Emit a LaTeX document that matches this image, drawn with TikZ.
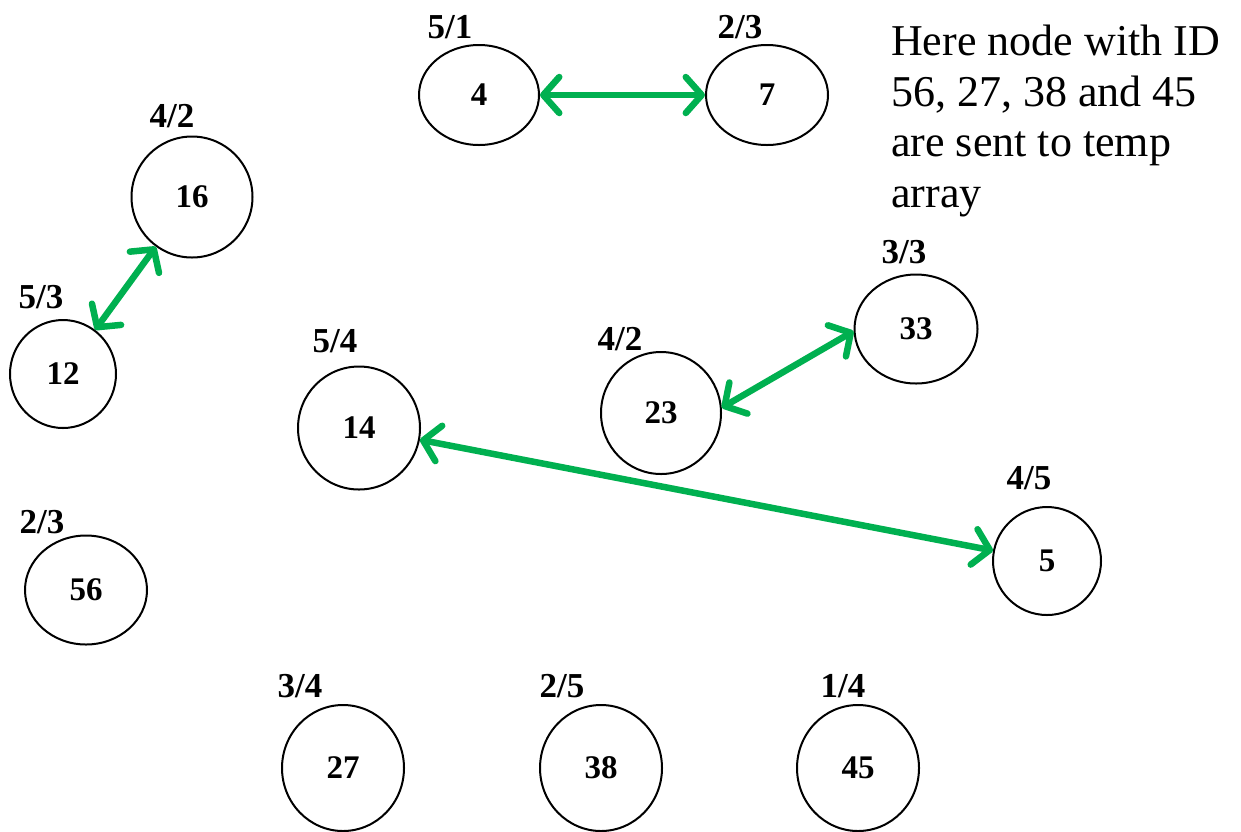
\documentclass[tikz,border=0pt]{standalone}
\usepackage{fontspec}
\setmainfont{Liberation Serif}
\usetikzlibrary{shapes.geometric,arrows.meta}
\definecolor{arrowgreen}{RGB}{0,176,80}
\begin{document}
\begin{tikzpicture}[x=1pt,y=-1pt,
  vnode/.style={ellipse,draw,line width=2pt,inner sep=0pt,font=\fontsize{33}{36}\selectfont\bfseries},
  lbl/.style={font=\fontsize{35}{38}\selectfont\bfseries,inner sep=0pt},
  link/.style={draw=arrowgreen,line width=6.5pt,
    {Straight Barb[length=16pt,width=36pt,line cap=round,round]}-{Straight Barb[length=16pt,width=36pt,line cap=round,round]}}]
\useasboundingbox (0,0) rectangle (1241,831);
% nodes
\node[vnode,minimum width=120pt,minimum height=100pt] (n4) at (479,95) {4};
\node[vnode,minimum width=122pt,minimum height=100pt] (n7) at (767,95) {7};
\node[vnode,minimum width=121pt,minimum height=121pt] (n16) at (192,197) {16};
\node[vnode,minimum width=106pt,minimum height=108pt] (n12) at (63,374) {12};
\node[vnode,minimum width=122pt,minimum height=123pt] (n14) at (359,428) {14};
\node[vnode,minimum width=120pt,minimum height=122pt] (n23) at (661,413) {23};
\node[vnode,minimum width=123pt,minimum height=109pt] (n33) at (916,329) {33};
\node[vnode,minimum width=108pt,minimum height=108pt] (n5) at (1047,561) {5};
\node[vnode,minimum width=122pt,minimum height=109pt] (n56) at (86,590) {56};
\node[vnode,minimum width=122pt,minimum height=126pt] (n27) at (343,768) {27};
\node[vnode,minimum width=122pt,minimum height=126pt] (n38) at (601,768) {38};
\node[vnode,minimum width=122pt,minimum height=126pt] (n45) at (858,768) {45};
% labels
\node[lbl] (l4) at (450,27) {5/1};
\node[lbl] (l7) at (740,27) {2/3};
\node[lbl] (l16) at (172,116) {4/2};
\node[lbl] (l12) at (41,297) {5/3};
\node[lbl] (l14) at (335,341) {5/4};
\node[lbl] (l23) at (620,339) {4/2};
\node[lbl] (l33) at (904,252) {3/3};
\node[lbl] (l5) at (1029,478) {4/5};
\node[lbl] (l56) at (42,522) {2/3};
\node[lbl] (l27) at (300,686) {3/4};
\node[lbl] (l38) at (562,686) {2/5};
\node[lbl] (l45) at (843,686) {1/4};
% connectors
\draw[link] (n4) -- (n7);
\draw[link] (n16) -- (n12);
\draw[link] (n23.5) -- (n33.182);
\draw[link] (n14) -- (n5);
% annotation
\node[anchor=north west,align=left,inner sep=0pt,font=\fontsize{44}{50.5}\selectfont] (note) at (891,25)
  {Here node with ID\\56, 27, 38 and 45\\are sent to temp\\array};
\end{tikzpicture}
\end{document}
